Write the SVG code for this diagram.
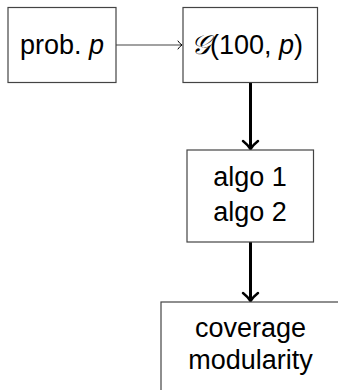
<svg xmlns="http://www.w3.org/2000/svg" width="338" height="390" viewBox="0 0 338 390">
<style>
.box{fill:#fff;stroke:#444;stroke-width:1.2}
.t{font-family:"Liberation Sans","DejaVu Sans",sans-serif;font-size:27px;fill:#000;text-anchor:middle}
.thin{stroke:#444;stroke-width:1.2;fill:none}
.thick{stroke:#000;stroke-width:3;fill:none}
.head{stroke:#000;fill:none;stroke-linecap:round;stroke-linejoin:round}
</style>
<g id="connectors">
<line class="thin" x1="116" y1="45" x2="182" y2="45"/>
<path class="head" stroke-width="1" stroke="#444" d="M178,41 Q180,44 182,45 Q180,46 178,49"/>
<line class="thick" x1="250.5" y1="82" x2="250.5" y2="148"/>
<path class="head" stroke-width="2.5" d="M243,141 Q248,145 250.5,149 Q253,145 258,141"/>
<line class="thick" x1="250.5" y1="242" x2="250.5" y2="300"/>
<path class="head" stroke-width="2.5" d="M243,293 Q248,297 250.5,301 Q253,297 258,293"/>
</g>
<g id="n1">
<rect class="box" x="8" y="7.5" width="108" height="75"/>
<text class="t" x="62" y="54">prob. <tspan font-style="italic">p</tspan></text>
</g>
<g id="n2">
<rect class="box" x="183" y="7.5" width="134.5" height="75"/>
<text class="t" x="247" y="54"><tspan font-family="DejaVu Serif,serif" font-style="italic">𝒢</tspan>(100, <tspan font-style="italic">p</tspan>)</text>
</g>
<g id="n3">
<rect class="box" x="187" y="150" width="126.5" height="92"/>
<text class="t" x="250" y="186">algo 1</text>
<text class="t" x="250" y="221">algo 2</text>
</g>
<g id="n4">
<rect class="box" x="161" y="302" width="200" height="100"/>
<text class="t" x="250.5" y="337">coverage</text>
<text class="t" x="250.5" y="369">modularity</text>
</g>
</svg>
